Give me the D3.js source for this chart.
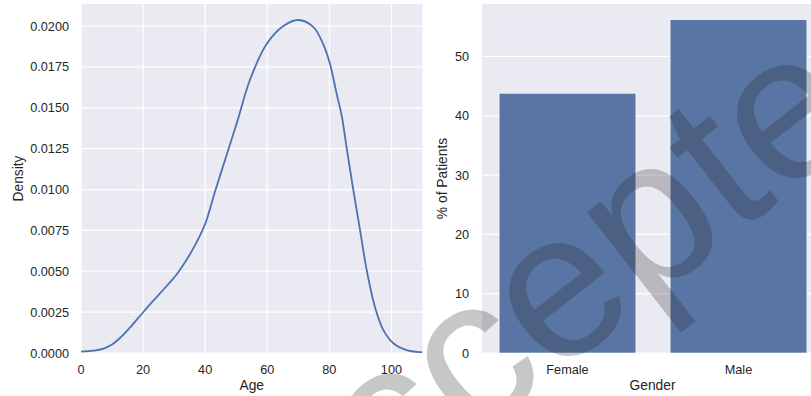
<!DOCTYPE html>
<html>
<head>
<meta charset="utf-8">
<script src="https://cdn.jsdelivr.net/npm/d3@7"></script>
<style>
  html, body { margin: 0; padding: 0; background: #fff; }
  svg { display: block; font-family: "Liberation Sans", Arial, sans-serif; }
  .tick-label { font-size: 12.7px; fill: #262626; }
  .axis-label { font-size: 13.8px; fill: #262626; }
</style>
</head>
<body>
<svg id="chart" width="811" height="396"></svg>
<script>
// ── Data ──────────────────────────────────────────────────────────────────
// Age KDE (age in years, density)
const ageX    = [0, 4, 7, 10, 13, 16, 19.6, 23.3, 27.6, 30.8, 34, 37.3, 40, 43.2, 47.4,
                 50.4, 54.4, 59.8, 65.2, 70, 74.8, 78, 80.2, 82.3, 84, 85.6, 87.7, 89.9,
                 92, 94.7, 97.4, 100.6, 104.9, 110];
const density = [0.00008, 0.00014, 0.00025, 0.00052, 0.0010, 0.0016, 0.0024, 0.0032, 0.0041,
                 0.0048, 0.0057, 0.0068, 0.0079, 0.0099, 0.0124, 0.0142, 0.0167, 0.0189,
                 0.0200, 0.02037, 0.01995, 0.0189, 0.0177, 0.0159, 0.0145, 0.0125, 0.0100,
                 0.0075, 0.0051, 0.0028, 0.0014, 0.0006, 0.00018, 0.00004];
const ageTicks     = [0, 20, 40, 60, 80, 100];
const densityTicks = [0, 0.0025, 0.005, 0.0075, 0.01, 0.0125, 0.015, 0.0175, 0.02];

// Gender share
const genders   = ['Female', 'Male'];
const pctValues = [43.8, 56.2];
const pctTicks  = [0, 10, 20, 30, 40, 50];

const BG = '#eaeaf2', LINE = '#4c72b0', BAR = '#5975a4';
const svg = d3.select('#chart');

// ── Left panel: KDE of age ─────────────────────────────────────────────────
const L = { x0: 81, x1: 422.5, y0: 4, y1: 353 };
const xAge = d3.scaleLinear().domain([0, 110]).range([L.x0, L.x1]);
const yDen = d3.scaleLinear().domain([0, 0.02135]).range([L.y1, L.y0]);

const left = svg.append('g');
left.append('rect')
  .attr('x', L.x0).attr('y', L.y0)
  .attr('width', L.x1 - L.x0).attr('height', L.y1 - L.y0)
  .attr('fill', BG);

left.append('g').selectAll('line.v')
  .data(ageTicks).join('line')
  .attr('x1', d => xAge(d)).attr('x2', d => xAge(d))
  .attr('y1', L.y0).attr('y2', L.y1)
  .attr('stroke', '#fff').attr('stroke-width', 1.2);
left.append('g').selectAll('line.h')
  .data(densityTicks).join('line')
  .attr('x1', L.x0).attr('x2', L.x1)
  .attr('y1', d => yDen(d)).attr('y2', d => yDen(d))
  .attr('stroke', '#fff').attr('stroke-width', 1.2);

left.append('clipPath').attr('id', 'clipL')
  .append('rect').attr('x', L.x0).attr('y', L.y0)
  .attr('width', L.x1 - L.x0).attr('height', L.y1 - L.y0);

const kde = d3.line()
  .x((d, i) => xAge(ageX[i]))
  .y(d => yDen(d))
  .curve(d3.curveCatmullRom.alpha(0.5));
left.append('path')
  .attr('clip-path', 'url(#clipL)')
  .attr('d', kde(density))
  .attr('fill', 'none')
  .attr('stroke', LINE)
  .attr('stroke-width', 1.8);

left.append('g').selectAll('text')
  .data(ageTicks).join('text')
  .attr('class', 'tick-label')
  .attr('x', d => xAge(d)).attr('y', 374)
  .attr('text-anchor', 'middle')
  .text(d => d);
left.append('g').selectAll('text')
  .data(densityTicks).join('text')
  .attr('class', 'tick-label')
  .attr('x', 69).attr('y', d => yDen(d) + 4.5)
  .attr('text-anchor', 'end')
  .text(d => d.toFixed(4));

left.append('text').attr('class', 'axis-label')
  .attr('x', (L.x0 + L.x1) / 2).attr('y', 390)
  .attr('text-anchor', 'middle').text('Age');
left.append('text').attr('class', 'axis-label')
  .attr('transform', `translate(22.6,${(L.y0 + L.y1) / 2}) rotate(-90)`)
  .attr('text-anchor', 'middle').text('Density');

// ── Right panel: % of patients by gender ──────────────────────────────────
const R = { x0: 482, x1: 824, y0: 4, y1: 353 };
const xG = d3.scaleBand().domain(genders).range([R.x0, R.x1])
  .paddingInner(0.2).paddingOuter(0.1);
const yP = d3.scaleLinear().domain([0, 58.85]).range([R.y1, R.y0]);

const right = svg.append('g');
right.append('rect')
  .attr('x', R.x0).attr('y', R.y0)
  .attr('width', R.x1 - R.x0).attr('height', R.y1 - R.y0)
  .attr('fill', BG);
right.append('g').selectAll('line')
  .data(pctTicks).join('line')
  .attr('x1', R.x0).attr('x2', R.x1)
  .attr('y1', d => yP(d)).attr('y2', d => yP(d))
  .attr('stroke', '#fff').attr('stroke-width', 1.2);

right.append('g').selectAll('rect')
  .data(pctValues).join('rect')
  .attr('x', (d, i) => xG(genders[i]))
  .attr('y', d => yP(d))
  .attr('width', xG.bandwidth())
  .attr('height', d => yP(0) - yP(d))
  .attr('fill', BAR)
  .attr('stroke', '#fff').attr('stroke-width', 0.6);

right.append('g').selectAll('text')
  .data(genders).join('text')
  .attr('class', 'tick-label')
  .attr('x', d => xG(d) + xG.bandwidth() / 2).attr('y', 374)
  .attr('text-anchor', 'middle')
  .text(d => d);
right.append('g').selectAll('text')
  .data(pctTicks).join('text')
  .attr('class', 'tick-label')
  .attr('x', 469).attr('y', d => yP(d) + 4.5)
  .attr('text-anchor', 'end')
  .text(d => d);

right.append('text').attr('class', 'axis-label')
  .attr('x', 652.5).attr('y', 390)
  .attr('text-anchor', 'middle').text('Gender');
right.append('text').attr('class', 'axis-label')
  .attr('transform', `translate(447.4,${(R.y0 + R.y1) / 2}) rotate(-90)`)
  .attr('text-anchor', 'middle').text('% of Patients');

// ── Watermark ─────────────────────────────────────────────────────────────
svg.append('text')
  .attr('transform', 'translate(279,592) rotate(-38)')
  .attr('font-size', 208)
  .attr('fill', '#262626')
  .attr('fill-opacity', 0.26)
  .text('Accepted');
</script>
</body>
</html>
